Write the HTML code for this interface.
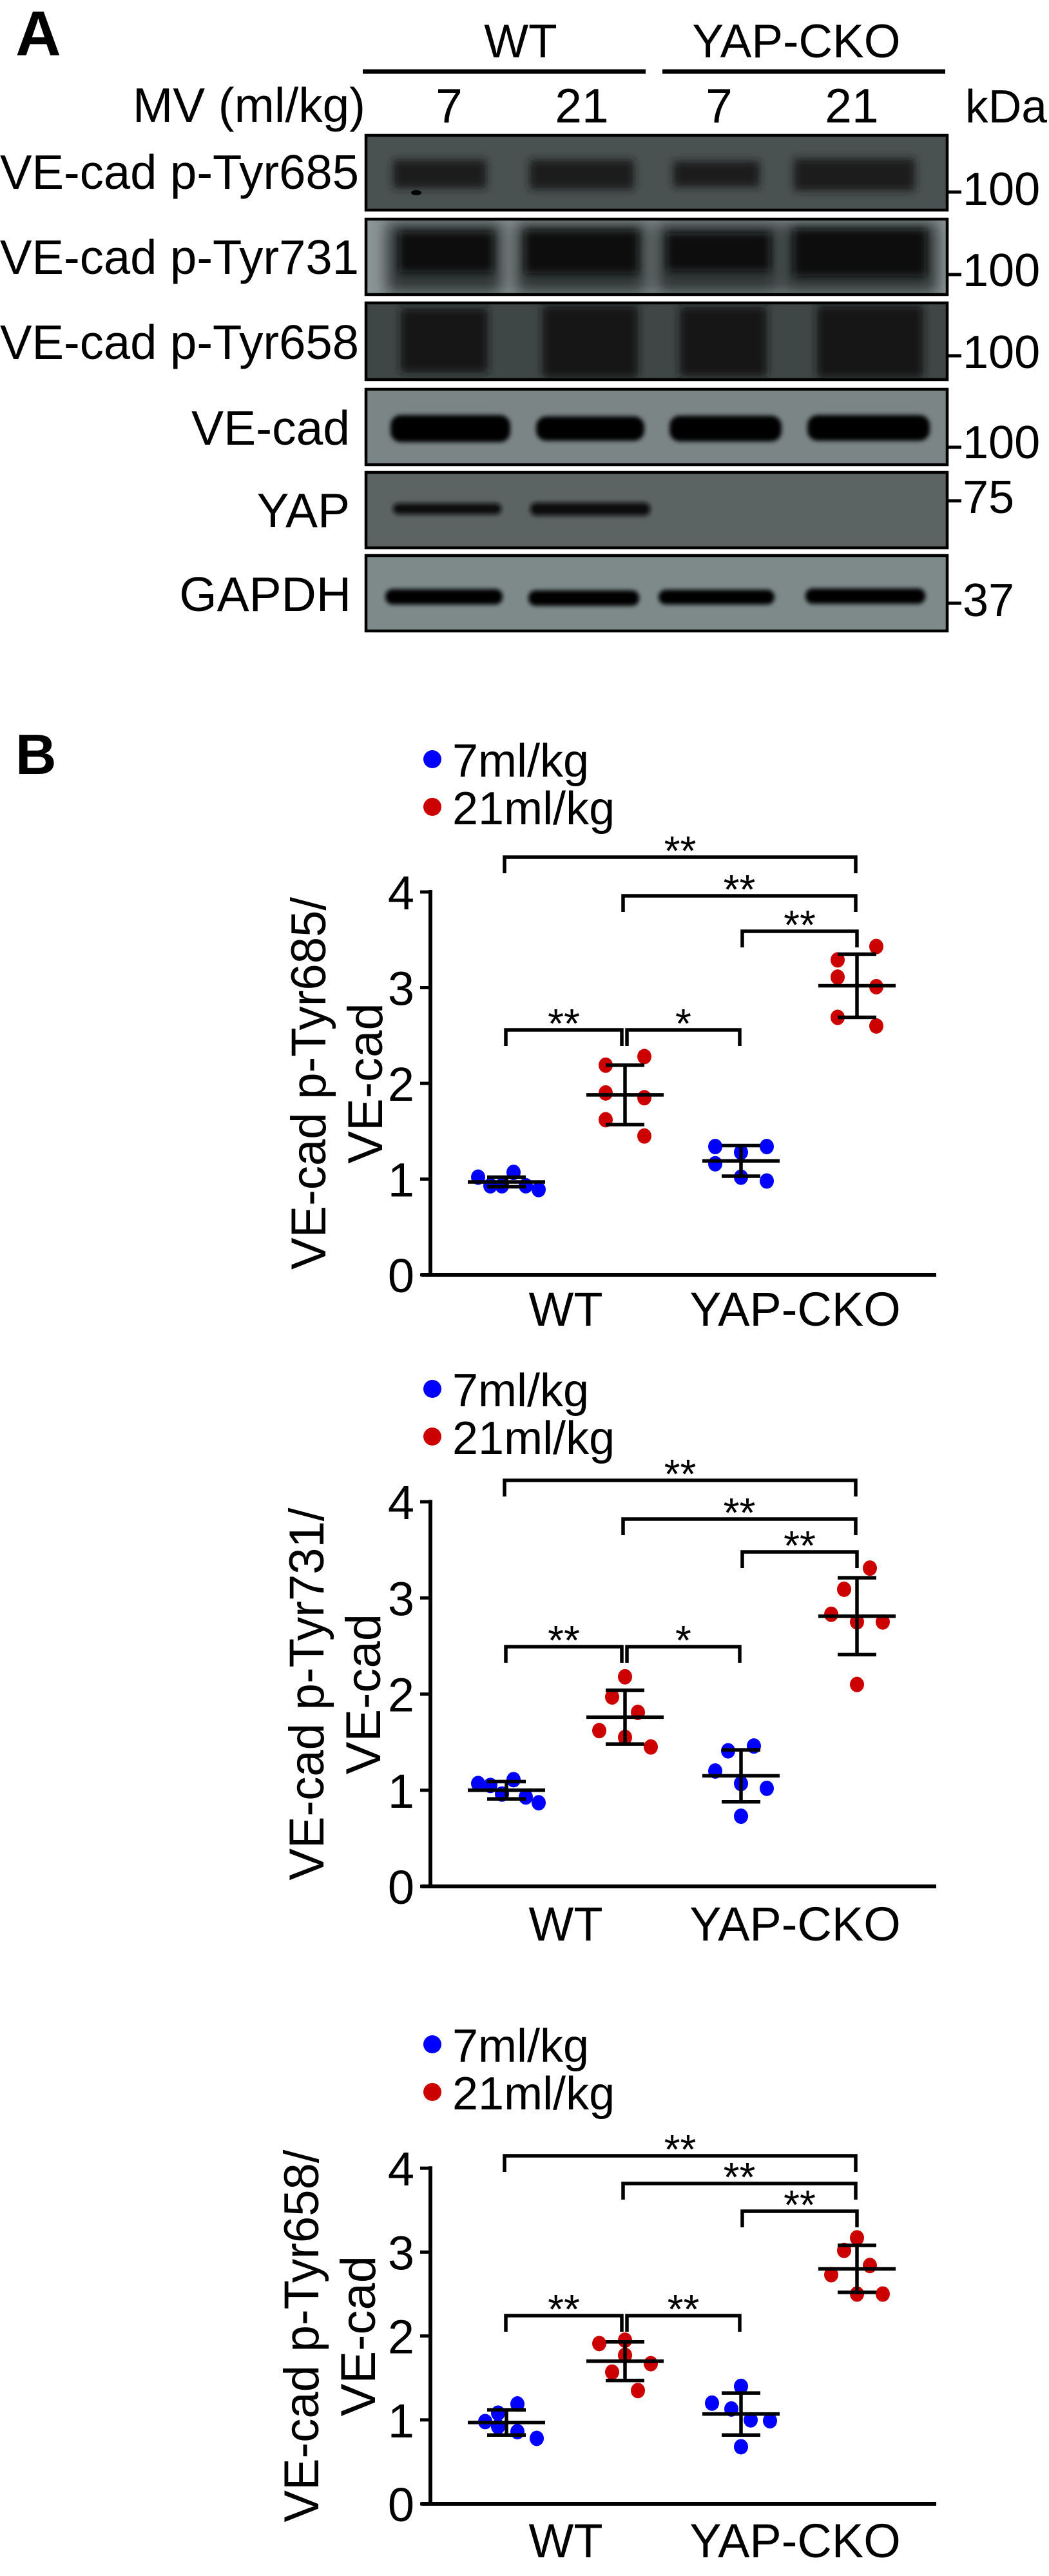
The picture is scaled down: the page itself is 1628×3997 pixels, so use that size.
<!DOCTYPE html>
<html><head><meta charset="utf-8"><style>
html,body{margin:0;padding:0;background:#fff;}
svg{display:block;font-family:"Liberation Sans",Arial,sans-serif;}
</style></head><body>
<svg id="fig" width="1628" height="3997" viewBox="0 0 1628 3997" xmlns="http://www.w3.org/2000/svg">
<defs>
<filter id="b6" x="-20%" y="-60%" width="140%" height="220%"><feGaussianBlur stdDeviation="6"/></filter>
<filter id="b12" x="-20%" y="-60%" width="140%" height="220%"><feGaussianBlur stdDeviation="12"/></filter>
<filter id="b3" x="-20%" y="-60%" width="140%" height="220%"><feGaussianBlur stdDeviation="3.5"/></filter>
<clipPath id="c1"><rect x="568" y="210" width="902" height="116"/></clipPath>
<clipPath id="c2"><rect x="568" y="340" width="902" height="117"/></clipPath>
<clipPath id="c3"><rect x="568" y="470" width="902" height="119"/></clipPath>
<clipPath id="c4"><rect x="568" y="604" width="902" height="117"/></clipPath>
<clipPath id="c5"><rect x="568" y="733" width="902" height="117"/></clipPath>
<clipPath id="c6"><rect x="568" y="862" width="902" height="117"/></clipPath>
</defs>

<g>
<text x="24" y="86" font-size="98" font-weight="bold">A</text>
<text x="808" y="89" font-size="73" text-anchor="middle">WT</text>
<text x="1236" y="89" font-size="73" text-anchor="middle">YAP-CKO</text>
<line x1="563" y1="111" x2="1002" y2="111" stroke="#000" stroke-width="7"/>
<line x1="1028" y1="111" x2="1467" y2="111" stroke="#000" stroke-width="7"/>
<text x="567" y="189" font-size="75" text-anchor="end" textLength="361" lengthAdjust="spacingAndGlyphs">MV (ml/kg)</text>
<text x="697" y="190" font-size="75" text-anchor="middle">7</text>
<text x="903" y="190" font-size="75" text-anchor="middle">21</text>
<text x="1116" y="190" font-size="75" text-anchor="middle">7</text>
<text x="1322" y="190" font-size="75" text-anchor="middle">21</text>
<text x="1498" y="190" font-size="72" textLength="127" lengthAdjust="spacingAndGlyphs">kDa</text>

<g font-size="75" text-anchor="end">
<text x="557" y="293" textLength="557" lengthAdjust="spacingAndGlyphs">VE-cad p-Tyr685</text>
<text x="557" y="425" textLength="557" lengthAdjust="spacingAndGlyphs">VE-cad p-Tyr731</text>
<text x="557" y="557" textLength="557" lengthAdjust="spacingAndGlyphs">VE-cad p-Tyr658</text>
<text x="543" y="690">VE-cad</text>
<text x="543" y="818">YAP</text>
<text x="545" y="948">GAPDH</text>
</g>

<g clip-path="url(#c1)">
<rect x="568" y="210" width="902" height="116" fill="#495151"/>
<g fill="#1c1f1f" filter="url(#b6)">
<rect x="610" y="248" width="145" height="44"/><rect x="822" y="248" width="162" height="46"/>
<rect x="1045" y="250" width="134" height="40"/><rect x="1232" y="246" width="188" height="50"/></g>
<ellipse cx="646" cy="299" rx="8" ry="4" fill="#000"/>
</g>
<g clip-path="url(#c2)">
<rect x="568" y="340" width="902" height="117" fill="#8c9696"/>
<g fill="#2f3535" filter="url(#b12)">
<rect x="600" y="345" width="180" height="110"/><rect x="800" y="345" width="205" height="110"/>
<rect x="1018" y="345" width="192" height="110"/><rect x="1215" y="345" width="240" height="110"/></g>
<g fill="#0d0f0f" filter="url(#b6)">
<rect x="620" y="360" width="145" height="62"/><rect x="815" y="358" width="175" height="66"/>
<rect x="1035" y="362" width="160" height="58"/><rect x="1232" y="356" width="205" height="72"/></g>
</g>
<g clip-path="url(#c3)">
<rect x="568" y="470" width="902" height="119" fill="#3e4646"/>
<g fill="#121414" filter="url(#b6)">
<rect x="622" y="478" width="135" height="100"/><rect x="842" y="474" width="148" height="112"/>
<rect x="1055" y="476" width="135" height="108"/><rect x="1268" y="474" width="165" height="112"/></g>
</g>
<g clip-path="url(#c4)">
<rect x="568" y="604" width="902" height="117" fill="#7b8585"/>
<g fill="#050505" filter="url(#b3)">
<rect x="606" y="644" width="186" height="42" rx="16"/><rect x="832" y="646" width="168" height="38" rx="16"/>
<rect x="1039" y="645" width="174" height="40" rx="16"/><rect x="1253" y="644" width="190" height="40" rx="16"/></g>
</g>
<g clip-path="url(#c5)">
<rect x="568" y="733" width="902" height="117" fill="#5b6363"/>
<g fill="#0a0b0b" filter="url(#b3)">
<rect x="610" y="781" width="168" height="17" rx="8"/><rect x="823" y="780" width="186" height="20" rx="9"/></g>
</g>
<g clip-path="url(#c6)">
<rect x="568" y="862" width="902" height="117" fill="#7e8a8a"/>
<g fill="#050505" filter="url(#b3)">
<rect x="598" y="914" width="182" height="24" rx="11"/><rect x="820" y="916" width="172" height="24" rx="11"/>
<rect x="1022" y="915" width="180" height="23" rx="11"/><rect x="1250" y="913" width="186" height="24" rx="11"/></g>
</g>
<g fill="none" stroke="#000" stroke-width="4.5">
<rect x="568" y="210" width="902" height="116"/><rect x="568" y="340" width="902" height="117"/>
<rect x="568" y="470" width="902" height="119"/><rect x="568" y="604" width="902" height="117"/>
<rect x="568" y="733" width="902" height="117"/><rect x="568" y="862" width="902" height="117"/>
</g>
<g stroke="#000" stroke-width="5">
<line x1="1470" y1="298" x2="1492" y2="298"/><line x1="1470" y1="426" x2="1492" y2="426"/>
<line x1="1470" y1="552" x2="1492" y2="552"/><line x1="1470" y1="694" x2="1492" y2="694"/>
<line x1="1470" y1="777" x2="1492" y2="777"/><line x1="1470" y1="936" x2="1492" y2="936"/>
</g>
<g font-size="72">
<text x="1494" y="318">100</text>
<text x="1494" y="444">100</text>
<text x="1494" y="571">100</text>
<text x="1494" y="711">100</text>
<text x="1494" y="796">75</text>
<text x="1494" y="956">37</text>
</g>
</g>

<text x="24" y="1201" font-size="88" font-weight="bold">B</text>
<g id="charts"></g>
</svg>
<script>
const groups = ["WT 7ml/kg", "WT 21ml/kg", "YAP-CKO 7ml/kg", "YAP-CKO 21ml/kg"];
const yTicks = [0, 1, 2, 3, 4];
const xLabels = ["WT", "YAP-CKO"];
const legendLabels = ["7ml/kg", "21ml/kg"];
const yTitles = ["VE-cad p-Tyr685/", "VE-cad p-Tyr731/", "VE-cad p-Tyr658/"];
const sigLabels1 = ["**", "**", "**", "**", "*"];
const sigLabels2 = ["**", "**", "**", "**", "*"];
const sigLabels3 = ["**", "**", "**", "**", "**"];

const c1Values = [
  [1.02, 0.93, 0.93, 1.07, 0.93, 0.89],
  [2.19, 1.90, 1.62, 2.28, 1.85, 1.45],
  [1.34, 1.16, 1.28, 1.02, 1.34, 0.98],
  [3.29, 3.11, 2.69, 3.43, 3.01, 2.60]
];
const c1Means = [0.97, 1.88, 1.19, 3.02];
const c1SD = [0.05, 0.31, 0.16, 0.33];

const c2Values = [
  [1.07, 1.05, 0.96, 1.11, 0.93, 0.87],
  [1.62, 1.97, 2.18, 1.55, 1.81, 1.45],
  [1.20, 1.41, 1.07, 0.73, 1.46, 1.02],
  [2.83, 3.09, 2.75, 2.10, 3.31, 2.75]
];
const c2Means = [1.00, 1.76, 1.15, 2.81];
const c2SD = [0.09, 0.28, 0.27, 0.40];

const c3Values = [
  [0.98, 1.08, 0.92, 1.19, 0.86, 0.78],
  [1.91, 1.57, 1.95, 1.77, 1.35, 1.67],
  [1.20, 1.13, 1.40, 0.68, 1.00, 0.99],
  [2.73, 3.02, 3.17, 2.50, 2.84, 2.50]
];
const c3Means = [0.97, 1.70, 1.07, 2.80];
const c3SD = [0.15, 0.23, 0.25, 0.28];

const NS = "http://www.w3.org/2000/svg";
const root = document.getElementById("charts");
const groupX = [786, 970, 1150, 1330];
const colors = ["#0000ff", "#cc0000", "#0000ff", "#cc0000"];
const jitter1 = [[-44,-25,-7,11,30,50],[-30,-30,-30,30,30,30],[-40,-40,0,0,40,40],[-30,-30,-30,30,30,30]];
const jitter2 = [[-44,-25,-7,11,30,50],[-40,-20,0,0,20,40],[-40,-20,0,0,20,40],[-40,-20,0,0,20,40]];
const jitter3 = [[-33,-13,-13,17,17,47],[-40,-20,0,0,20,40],[-45,-15,0,0,15,45],[-40,-20,0,0,20,40]];

function mk(tag, attrs, parent, text) {
  const e = document.createElementNS(NS, tag);
  for (const k in attrs) e.setAttribute(k, attrs[k]);
  if (text !== undefined) e.textContent = text;
  parent.appendChild(e);
  return e;
}

function drawChart(idx, cfg, values, means, sds, sig, jit) {
  const g = mk("g", {}, root);
  
  
  const y = v => cfg.y0 - v * cfg.unit;
  const axisX = 668;
  for (let i = 0; i < 2; i++) {
    const ly = cfg.legend + i * 74;
    const d = mk("circle", {cx: 671, cy: ly, r: 14, fill: i ? "#cc0000" : "#0000ff"}, g);
    
    
    const t = mk("text", {x: 702, y: ly + 27, "font-size": 72}, g, legendLabels[i]);
    
    
  }
  const ya = mk("line", {x1: axisX, y1: y(4) - 3, x2: axisX, y2: cfg.y0 + 3, stroke: "#000", "stroke-width": 6}, g);
  
  
  const xa = mk("line", {x1: 654, y1: cfg.y0, x2: 1453, y2: cfg.y0, stroke: "#000", "stroke-width": 6}, g);
  
  
  yTicks.forEach(v => {
    const tk = mk("line", {x1: 652, y1: y(v), x2: axisX, y2: y(v), stroke: "#000", "stroke-width": 5}, g);
    
    
    const tl = mk("text", {x: 643, y: y(v) + 27, "font-size": 74, "text-anchor": "end"}, g, String(v));
    
    
  });
  const xc = [878, 1234];
  xLabels.forEach((l, i) => {
    const t = mk("text", {x: xc[i], y: cfg.xlab, "font-size": 74, "text-anchor": "middle"}, g, l);
    
    
  });
  const cy = (y(4) + cfg.y0) / 2;
  const t1 = mk("text", {x: 0, y: 0, "font-size": 76, "text-anchor": "middle", transform: `translate(${cfg.tx1},${cy}) rotate(-90)`, textLength: 578, lengthAdjust: "spacingAndGlyphs"}, g, yTitles[idx]);
  
  
  const t2 = mk("text", {x: 0, y: 0, "font-size": 76, "text-anchor": "middle", transform: `translate(${cfg.tx1 + 88},${cy}) rotate(-90)`}, g, "VE-cad");
  
  
  const bx = [[783, 1328], [967, 1328], [1152, 1330], [785, 965], [973, 1148]];
  cfg.br.forEach((by, i) => {
    const [a, b] = bx[i];
    const p = mk("path", {d: `M${a},${by + 25} V${by} H${b} V${by + 25}`, fill: "none", stroke: "#000", "stroke-width": 5.5}, g);
    
    
    const s = mk("text", {x: (a + b) / 2, y: by + 12, "font-size": 64, "text-anchor": "middle"}, g, sig[i]);
    
    
  });
  values.forEach((arr, gi) => {
    arr.forEach((v, k) => {
      const c = mk("ellipse", {cx: groupX[gi] + jit[gi][k], cy: y(v), rx: 11, ry: 12, fill: colors[gi]}, g);
      
      
    });
  });
  means.forEach((m, gi) => {
    const x = groupX[gi];
    const eg = mk("g", {stroke: "#000", "stroke-width": 5.5}, g);
    
    
    mk("line", {x1: x - 60, y1: y(m), x2: x + 60, y2: y(m)}, eg);
    mk("line", {x1: x, y1: y(m + sds[gi]), x2: x, y2: y(m - sds[gi])}, eg);
    mk("line", {x1: x - 30, y1: y(m + sds[gi]), x2: x + 30, y2: y(m + sds[gi])}, eg);
    mk("line", {x1: x - 30, y1: y(m - sds[gi]), x2: x + 30, y2: y(m - sds[gi])}, eg);
  });
}

drawChart(0, {y0: 1978, unit: 148.5, legend: 1178, xlab: 2057, tx1: 505, br: [1330, 1390, 1445, 1598, 1598]}, c1Values, c1Means, c1SD, sigLabels1, jitter1);
drawChart(1, {y0: 2927, unit: 149.2, legend: 2155, xlab: 3011, tx1: 502, br: [2297, 2357, 2408, 2555, 2555]}, c2Values, c2Means, c2SD, sigLabels2, jitter2);
drawChart(2, {y0: 3885, unit: 130.2, legend: 3172, xlab: 3968, tx1: 494, br: [3345, 3388, 3431, 3593, 3593]}, c3Values, c3Means, c3SD, sigLabels3, jitter3);
</script>
</body></html>
